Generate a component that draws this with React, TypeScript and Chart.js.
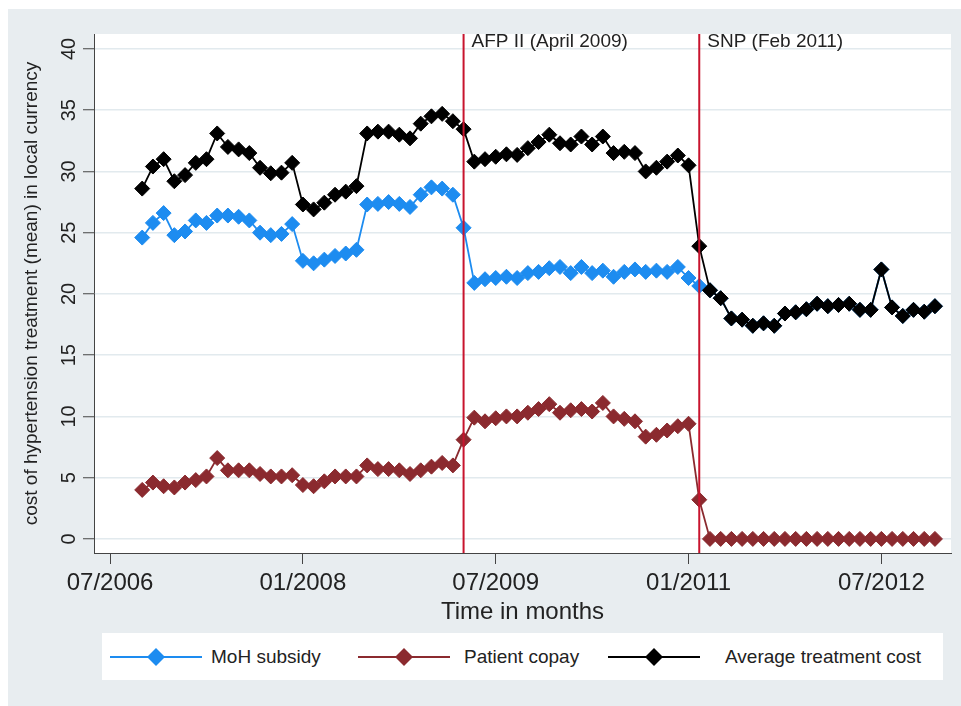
import React, { useEffect, useRef } from 'react';
import { Chart, registerables } from 'chart.js';

Chart.register(...registerables);

const months = [
  '2006-10', '2006-11', '2006-12',
  '2007-01', '2007-02', '2007-03', '2007-04', '2007-05', '2007-06', '2007-07', '2007-08', '2007-09', '2007-10', '2007-11', '2007-12',
  '2008-01', '2008-02', '2008-03', '2008-04', '2008-05', '2008-06', '2008-07', '2008-08', '2008-09', '2008-10', '2008-11', '2008-12',
  '2009-01', '2009-02', '2009-03', '2009-04', '2009-05', '2009-06', '2009-07', '2009-08', '2009-09', '2009-10', '2009-11', '2009-12',
  '2010-01', '2010-02', '2010-03', '2010-04', '2010-05', '2010-06', '2010-07', '2010-08', '2010-09', '2010-10', '2010-11', '2010-12',
  '2011-01', '2011-02', '2011-03', '2011-04', '2011-05', '2011-06', '2011-07', '2011-08', '2011-09', '2011-10', '2011-11', '2011-12',
  '2012-01', '2012-02', '2012-03', '2012-04', '2012-05', '2012-06', '2012-07', '2012-08', '2012-09', '2012-10', '2012-11', '2012-12',
];

const mohSubsidy = [
  24.6, 25.8, 26.6,
  24.8, 25.1, 26.0, 25.8, 26.4, 26.4, 26.3, 26.0, 25.0, 24.8, 24.9, 25.7,
  22.7, 22.5, 22.8, 23.1, 23.3, 23.6, 27.3, 27.35, 27.5, 27.35, 27.1, 28.1,
  28.7, 28.6, 28.1, 25.4, 20.9, 21.2, 21.3, 21.4, 21.3, 21.7, 21.8, 22.1,
  22.2, 21.7, 22.2, 21.7, 21.9, 21.4, 21.8, 22.0, 21.8, 21.9, 21.8, 22.2,
  21.3, 20.65, 20.3, 19.65, 18.0, 17.9, 17.4, 17.6, 17.4, 18.4, 18.5, 18.75,
  19.2, 19.0, 19.1, 19.2, 18.7, 18.7, 22.0, 18.9, 18.2, 18.7, 18.55, 19.0,
];

const patientCopay = [
  4.0, 4.6, 4.3,
  4.2, 4.6, 4.8, 5.1, 6.6, 5.6, 5.6, 5.6, 5.3, 5.1, 5.1, 5.2,
  4.4, 4.3, 4.7, 5.1, 5.1, 5.1, 6.0, 5.7, 5.7, 5.6, 5.3, 5.6,
  5.9, 6.2, 6.0, 8.1, 9.9, 9.6, 9.85, 10.0, 10.0, 10.3, 10.6, 11.0,
  10.3, 10.5, 10.6, 10.4, 11.1, 10.0, 9.8, 9.6, 8.35, 8.5, 8.85, 9.2,
  9.4, 3.2, 0, 0, 0, 0, 0, 0, 0, 0, 0, 0,
  0, 0, 0, 0, 0, 0, 0, 0, 0, 0, 0, 0,
];

const averageCost = [
  28.6, 30.4, 31.0,
  29.2, 29.7, 30.7, 31.0, 33.1, 32.0, 31.8, 31.5, 30.3, 29.85, 29.9, 30.7,
  27.3, 26.9, 27.45, 28.1, 28.35, 28.8, 33.1, 33.25, 33.25, 33.0, 32.7, 33.9,
  34.5, 34.7, 34.1, 33.45, 30.8, 31.0, 31.2, 31.4, 31.35, 31.9, 32.4, 33.0,
  32.3, 32.2, 32.85, 32.2, 32.85, 31.5, 31.6, 31.5, 30.0, 30.3, 30.8, 31.3,
  30.5, 23.9, 20.3, 19.65, 18.0, 17.9, 17.4, 17.6, 17.4, 18.4, 18.5, 18.75,
  19.2, 19.0, 19.1, 19.2, 18.7, 18.7, 22.0, 18.9, 18.2, 18.7, 18.55, 19.0,
];

const seriesNames = ['MoH subsidy', 'Patient copay', 'Average treatment cost'];
const seriesColors = ['#1d8cf0', '#8b2a2f', '#000000'];

const xTickLabels = ['07/2006', '01/2008', '07/2009', '01/2011', '07/2012'];
const yTickValues = [0, 5, 10, 15, 20, 25, 30, 35, 40];

const eventMonths = ['2009-04', '2011-02'];
const eventLabels = ['AFP II (April 2009)', 'SNP (Feb 2011)'];

const xTitle = 'Time in months';
const yTitle = 'cost of hypertension treatment (mean) in local currency';

const FONT = '"Liberation Sans", Arial, Helvetica, sans-serif';
const TEXT = '#222222';
const AXIS = '#444444';

// month offset from July 2006
const monthIndex = (ym: string) => {
  const [y, m] = ym.split('-').map(Number);
  return (y - 2006) * 12 + (m - 7);
};
const tickIndex = (s: string) => {
  const [m, y] = s.split('/').map(Number);
  return (y - 2006) * 12 + (m - 7);
};

const toPoints = (vals: number[]) => vals.map((v, i) => ({ x: monthIndex(months[i]), y: v }));

const eventsPlugin = {
  id: 'eventsPlugin',
  beforeDraw(chart: any) {
    const { ctx, chartArea } = chart;
    ctx.save();
    ctx.fillStyle = '#ffffff';
    ctx.fillRect(chartArea.left, chartArea.top, chartArea.right - chartArea.left, chartArea.bottom - chartArea.top);
    ctx.restore();
  },
  afterDatasetsDraw(chart: any) {
    const { ctx, chartArea, scales } = chart;
    ctx.save();
    eventMonths.forEach((m, i) => {
      const px = scales.x.getPixelForValue(monthIndex(m));
      ctx.strokeStyle = '#c8142e';
      ctx.lineWidth = 2;
      ctx.beginPath();
      ctx.moveTo(px, chartArea.top);
      ctx.lineTo(px, chartArea.bottom);
      ctx.stroke();
      ctx.fillStyle = TEXT;
      ctx.font = `19px ${FONT}`;
      ctx.textAlign = 'left';
      ctx.textBaseline = 'alphabetic';
      ctx.fillText(eventLabels[i], px + 8, chartArea.top + 13);
    });
    ctx.restore();
  },
};

function LegendMarker({ color }: { color: string }) {
  return (
    <svg width={96} height={47} style={{ position: 'absolute', left: 0, top: 0 }}>
      <line x1={0} y1={24} x2={92} y2={24} stroke={color} strokeWidth={2} />
      <polygon points="46,15 55,24 46,33 37,24" fill={color} />
    </svg>
  );
}

export default function App() {
  const canvasRef = useRef<HTMLCanvasElement | null>(null);

  useEffect(() => {
    if (!canvasRef.current) return;
    const seriesValues = [mohSubsidy, patientCopay, averageCost];
    const orders = [2, 1, 0];
    const chart = new Chart(canvasRef.current, {
      type: 'line',
      data: {
        datasets: seriesValues.map((vals, i) => ({
          label: seriesNames[i],
          data: toPoints(vals),
          borderColor: seriesColors[i],
          backgroundColor: seriesColors[i],
          pointBackgroundColor: seriesColors[i],
          pointBorderColor: seriesColors[i],
          borderWidth: 1.8,
          pointStyle: 'rectRot',
          pointRadius: 7.5,
          pointBorderWidth: 1,
          tension: 0,
          fill: false,
          order: orders[i],
        })),
      },
      options: {
        responsive: false,
        animation: false,
        devicePixelRatio: 1,
        layout: { padding: { left: 20, right: 10, top: 34, bottom: 79 } },
        plugins: {
          legend: { display: false },
          tooltip: { enabled: false },
        },
        scales: {
          x: {
            type: 'linear',
            min: -1.5,
            max: 78.5,
            afterBuildTicks: (scale: any) => {
              scale.ticks = xTickLabels.map((l) => ({ value: tickIndex(l) }));
            },
            afterFit: (scale: any) => {
              scale.height = 74;
            },
            ticks: {
              autoSkip: false,
              maxRotation: 0,
              minRotation: 0,
              padding: 5,
              color: TEXT,
              font: { family: FONT, size: 24 },
              callback: (v: any) => {
                const idx = xTickLabels.findIndex((l) => tickIndex(l) === v);
                return idx >= 0 ? xTickLabels[idx] : '';
              },
            },
            grid: {
              drawOnChartArea: false,
              drawTicks: true,
              tickLength: 11,
              tickColor: AXIS,
              tickWidth: 1,
            },
            border: { display: true, color: AXIS, width: 1 },
            title: {
              display: true,
              text: xTitle,
              color: TEXT,
              font: { family: FONT, size: 24 },
              padding: 0,
            },
          },
          y: {
            type: 'linear',
            min: -1.15,
            max: 41.22,
            afterBuildTicks: (scale: any) => {
              scale.ticks = yTickValues.map((v) => ({ value: v }));
            },
            afterFit: (scale: any) => {
              scale.width = 74;
            },
            ticks: {
              autoSkip: false,
              minRotation: 90,
              maxRotation: 90,
              crossAlign: 'center',
              padding: 2,
              color: TEXT,
              font: { family: FONT, size: 20 },
              callback: (v: any) => String(v),
            },
            grid: {
              color: '#e2eaee',
              lineWidth: 1.5,
              drawTicks: true,
              tickLength: 11,
              tickColor: AXIS,
              tickWidth: 1,
            },
            border: { display: true, color: AXIS, width: 1 },
            title: {
              display: true,
              text: yTitle,
              color: TEXT,
              font: { family: FONT, size: 19 },
              padding: 0,
            },
          },
        },
      },
      plugins: [eventsPlugin],
    } as any);
    return () => chart.destroy();
  }, []);

  const legendPos = [
    { marker: 8, text: 109 },
    { marker: 256, text: 362 },
    { marker: 506, text: 623 },
  ];

  return (
    <div style={{ position: 'absolute', left: 0, top: 0, width: 961, height: 706, background: '#ffffff', overflow: 'hidden' }}>
      <div style={{ position: 'absolute', left: 8, top: 9, right: 0, bottom: 0, background: '#e8edf0' }} />
      <canvas ref={canvasRef} width={961} height={706} style={{ position: 'absolute', left: 0, top: 0, width: 961, height: 706 }} />
      <div style={{ position: 'absolute', left: 102, top: 633, width: 841, height: 47, background: '#ffffff', fontFamily: FONT, fontSize: 19, color: TEXT }}>
        {seriesNames.map((name, i) => (
          <React.Fragment key={name}>
            <div style={{ position: 'absolute', left: legendPos[i].marker, top: 0, width: 96, height: 47 }}>
              <LegendMarker color={seriesColors[i]} />
            </div>
            <div style={{ position: 'absolute', left: legendPos[i].text, top: 0, height: 47, display: 'flex', alignItems: 'center', whiteSpace: 'nowrap' }}>
              {name}
            </div>
          </React.Fragment>
        ))}
      </div>
    </div>
  );
}
